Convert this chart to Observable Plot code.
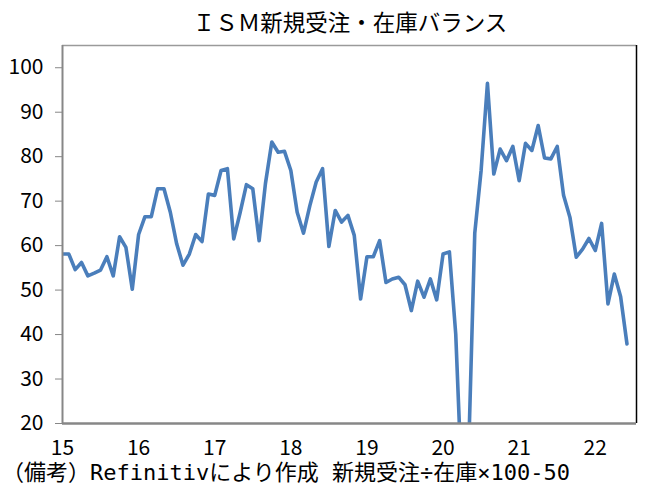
<!DOCTYPE html>
<html>
<head>
<meta charset="utf-8">
<script src="https://cdn.jsdelivr.net/npm/d3@7"></script>
<script src="https://cdn.jsdelivr.net/npm/@observablehq/plot@0.6"></script>
<style>
  html, body { margin: 0; padding: 0; background: #fff; }
  #wrap { width: 648px; height: 492px; position: relative; overflow: hidden; }
  #title { height: 40px; line-height: 42px; font-family: "Noto Sans CJK JP", sans-serif; font-size: 22.5px; color: #000; text-align: center; padding-left: 52px; box-sizing: border-box; width: 648px; }
  #caption { position: absolute; left: 2px; top: 459px; line-height: 28px; font-family: "DejaVu Sans Mono", "Noto Sans CJK JP", monospace; font-size: 22px; color: #000; white-space: nowrap; }
  svg { display: block; }
</style>
</head>
<body>
<div id="wrap">
  <div id="title">ＩＳＭ新規受注・在庫バランス</div>
  <div id="chart"></div>
  <div id="caption">（備考）Refinitivにより作成 新規受注÷在庫×100-50</div>
</div>
<script>
// Monthly values, Jan 2015 – Jun 2022
const v2015 = [58.1, 58.1, 54.6, 56.2, 53.2, 53.8, 54.5, 57.5, 53.2, 62.0, 59.6, 50.2];
const v2016 = [62.5, 66.5, 66.5, 72.8, 72.8, 67.5, 60.4, 55.6, 58.1, 62.5, 60.9, 71.6];
const v2017 = [71.3, 76.9, 77.3, 61.5, 67.4, 73.7, 72.8, 61.1, 74.0, 83.3, 81.0, 81.2];
const v2018 = [76.9, 67.5, 62.8, 69.0, 74.3, 77.3, 59.8, 67.9, 65.3, 66.8, 62.3, 48.0];
const v2019 = [57.5, 57.5, 61.1, 51.7, 52.5, 52.9, 51.2, 45.4, 52.0, 48.4, 52.5, 47.8];
const v2020 = [58.1, 58.6, 40.1, 4.5, 12.0, 62.8, 76.9, 96.5, 76.1, 81.7, 79.1, 82.3];
const v2021 = [74.6, 83.0, 81.4, 87.0, 79.7, 79.5, 82.3, 71.3, 66.4, 57.4, 59.2, 61.6];
const v2022 = [58.9, 65.0, 46.9, 53.6, 48.5, 37.9];

const yearLabels = ["15", "16", "17", "18", "19", "20", "21", "22"];
const yTicks = [20, 30, 40, 50, 60, 70, 80, 90, 100];

const values = [].concat(v2015, v2016, v2017, v2018, v2019, v2020, v2021, v2022);
const data = values.map((v, i) => ({i, v}));
const xTicks = yearLabels.map((_, k) => k * 12);

const axisFont = '"Noto Sans CJK JP", sans-serif';
const gray = "#878787";

const chart = Plot.plot({
  width: 648,
  height: 419,
  marginLeft: 62,
  marginRight: 12,
  marginTop: 5,
  marginBottom: 36,
  style: {fontFamily: axisFont, fontSize: "21px", background: "#fff", color: "#000", overflow: "visible"},
  x: {domain: [0, 90.5], axis: null},
  y: {domain: [20, 105], axis: null},
  marks: [
    Plot.lineY(data, {x: "i", y: "v", stroke: "#4a7ebb", strokeWidth: 3.6, clip: true}),
    Plot.ruleY([105], {stroke: "#9a9a9a", strokeWidth: 1.5}),
    Plot.ruleX([90.5], {stroke: "#000", strokeWidth: 1.5}),
    Plot.ruleX([0], {stroke: gray, strokeWidth: 2}),
    Plot.ruleY([20], {stroke: gray, strokeWidth: 2.5}),
    Plot.axisY({ticks: yTicks, tickSize: 7, tickPadding: 12, stroke: gray, fill: "#000", label: null, fontSize: 21}),
    Plot.axisX({ticks: xTicks, tickFormat: d => yearLabels[d / 12], tickSize: 0, tickPadding: 17, fill: "#000", label: null, fontSize: 21})
  ]
});
document.getElementById("chart").appendChild(chart);
</script>
</body>
</html>
